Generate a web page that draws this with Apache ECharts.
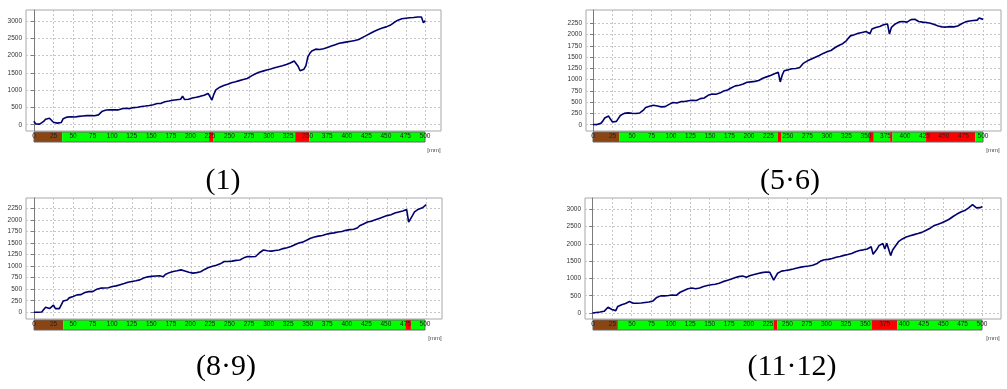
<!DOCTYPE html>
<html><head><meta charset="utf-8">
<script src="https://cdn.jsdelivr.net/npm/echarts@6/dist/echarts.min.js"></script>
<style>html,body{margin:0;padding:0;background:#fff}#c{width:1007px;height:389px}</style>
</head><body><div id="c"></div>
<script>
// ---------------- DATA ----------------
const STEP_MM = 2.5; // sample spacing of the curves along the path [mm]
const xTicks = [0,25,50,75,100,125,150,175,200,225,250,275,300,325,350,375,400,425,450,475,500];
const yTicks3000 = [0,500,1000,1500,2000,2500,3000];
const yTicks2250 = [0,250,500,750,1000,1250,1500,1750,2000,2250];
const captions = ['(1)', '(5\u00B76)', '(8\u00B79)', '(11\u00B712)'];

const curve1 = [100,22,25,18,32,95,160,205,185,130, 70,42,45,38,62,175,212,220,210,232,
 238,222,244,240,232,252,258,262,248,268, 272,260,256,285,322,392,405,425,412,432,
 444,430,448,428,446,460,445,475,482,466, 515,495,525,505,545,528,555,540,575,558,
 595,578,604,612,632,618,655,662,668,684, 692,708,698,724,722,738,825,728,748,738,
 764,772,762,795,798,820,826,855,866,905, 935,715,885,1005,1035,1085,1095,1135,1145,1170,
 1185,1215,1212,1240,1245,1275,1280,1305,1305,1335, 1355,1405,1425,1465,1485,1515,1525,1550,1555,1585,
 1590,1610,1615,1645,1640,1675,1685,1705,1715,1740, 1755,1785,1795,1845,1880,1690,1560,1555,1605,1710,
 1965,2065,2135,2165,2185,2185,2175,2195,2195,2215, 2235,2275,2275,2305,2315,2340,2355,2375,2375,2395,
 2395,2415,2415,2435,2435,2455,2465,2505,2525,2565, 2585,2625,2645,2685,2705,2745,2755,2785,2795,2825,
 2830,2855,2875,2925,2955,3005,3025,3055,3065,3085, 3080,3095,3095,3100,3100,3115,3115,3145,3115,2950,3010];

const curve2 = [5,0,3,2,30,80,150,185,192,120, 60,62,74,66,205,242,252,256,264,262,
 254,262,248,256,262,302,332,382,402,408, 422,432,418,416,408,396,380,402,424,452,
 480,492,482,482,494,512,518,516,526,532, 522,542,544,538,562,580,592,594,622,652,
 676,680,668,678,682,702,718,748,758,772, 784,822,848,862,864,878,880,902,924,942,
 944,952,954,962,968,982,988,1032,1048,1062, 1078,1092,1108,1132,1143,1162,950,1100,1198,1207,
 1218,1242,1243,1238,1247,1250,1268,1302,1368,1402, 1418,1442,1458,1482,1498,1518,1538,1562,1583,1602,
 1618,1637,1648,1682,1708,1732,1758,1782,1798,1842, 1868,1922,1972,1992,1998,2012,2028,2047,2048,2062,
 2068,2082,2018,2122,2138,2157,2158,2182,2198,2217, 2228,2237,2010,2162,2198,2237,2258,2282,2293,2292,
 2278,2277,2298,2332,2362,2342,2298,2292,2283,2277, 2268,2267,2258,2252,2238,2222,2203,2192,2178,2172,
 2158,2167,2168,2177,2178,2172,2178,2192,2218,2242, 2258,2282,2293,2302,2303,2312,2303,2322,2368,2352,2338];

const curve3 = [0,2,0,3,5,40,110,130,80,120, 155,80,55,80,100,245,285,265,312,328,
 342,358,377,368,382,408,427,438,447,448, 447,458,497,503,522,513,527,518,532,538,
 557,558,572,578,597,608,622,638,652,658, 667,668,682,688,702,718,742,753,767,768,
 777,778,787,788,792,773,767,818,852,858, 872,883,892,898,912,918,907,893,887,868,
 862,848,857,858,872,878,902,928,952,968, 987,998,1012,1018,1037,1048,1082,1098,1107,1098,
 1102,1108,1122,1123,1132,1133,1152,1178,1202,1205, 1207,1203,1209,1208,1242,1288,1322,1348,1347,1333,
 1332,1323,1337,1338,1340,1348,1367,1378,1392,1398, 1417,1423,1442,1463,1492,1498,1512,1518,1537,1558,
 1592,1603,1622,1628,1642,1648,1657,1663,1682,1688, 1702,1708,1717,1718,1732,1738,1747,1748,1762,1773,
 1787,1788,1797,1798,1807,1828,1872,1893,1912,1928, 1952,1958,1972,1983,2002,2013,2032,2043,2062,2073,
 2092,2098,2112,2123,2147,2158,2172,2178,2192,2203, 2222,1950,1962,2098,2172,2208,2232,2243,2262,2288,2330];

const curve4 = [0,5,15,25,30,40,48,100,165,140, 100,80,68,190,220,240,255,275,300,330,
 300,280,275,282,280,290,300,305,310,320, 335,345,400,450,485,495,490,495,500,505,
 515,522,513,512,560,600,630,652,663,702, 728,722,710,702,683,722,748,767,778,797,
 808,817,818,830,833,862,878,907,918,942, 953,977,993,1017,1031,1052,1058,1072,1048,1037,
 1058,1082,1093,1112,1123,1142,1148,1167,1173,1187, 1188,1177,1163,950,1050,1150,1195,1212,1218,1227,
 1233,1247,1253,1272,1283,1302,1313,1327,1333,1347, 1348,1360,1363,1382,1398,1422,1458,1502,1528,1542,
 1543,1552,1553,1577,1593,1612,1623,1637,1648,1667, 1673,1692,1698,1722,1743,1772,1788,1807,1813,1827,
 1838,1852,1878,1917,1700,1650,1850,1950,1980,2010, 1850,2015,1970,1660,1820,1900,1980,2062,2108,2142,
 2168,2197,2208,2232,2248,2267,2278,2297,2303,2332, 2358,2387,2408,2442,2478,2522,2543,2562,2578,2602,
 2628,2657,2678,2712,2748,2792,2818,2862,2888,2922, 2938,2962,2998,3042,3078,3132,3100,3040,3062,3048,3080];

// zone bar: boundaries [mm] and zone kind between them (B = brown, G = green, R = red)
const zones1 = [0, 36, 224, 229, 334, 352, 500];
const kinds1 = ['B','G','R','G','R','G'];
const zones2 = [0, 34, 237, 241, 354, 360, 381, 384, 427, 490, 500];
const kinds2 = ['B','G','R','G','R','G','R','G','R','G'];
const zones3 = [0, 37.5, 475, 482, 500];
const kinds3 = ['B','G','R','G'];
const zones4 = [0, 32, 232, 237, 358, 391, 500];
const kinds4 = ['B','G','R','G','R','G'];

// ---------------- LAYOUT / STYLE ----------------
const KIND_COLOR = { B: '#8B4513', G: '#00FF00', R: '#FF0000' };
const KIND_INDEX = ['B','G','R'];
const FONT = '"Liberation Sans", Arial, sans-serif';

const panels = [
  { curve: curve1, zones: zones1, kinds: kinds1, yTicks: yTicks3000, yMin: -182, yMax: 3318, xMin: -10, xMax: 520,
    grid: {left: 26, top: 10, width: 415, height: 121}, bar: {left: 34, top: 132, width: 391, height: 10},
    cap: {x: 223, y: 181}, mm: {x: 434, y: 150} },
  { curve: curve2, zones: zones2, kinds: kinds2, yTicks: yTicks2250, yMin: -139, yMax: 2546, xMin: -9, xMax: 523,
    grid: {left: 586, top: 10, width: 415, height: 121}, bar: {left: 593, top: 132, width: 390, height: 10},
    cap: {x: 790, y: 181}, mm: {x: 993, y: 150} },
  { curve: curve3, zones: zones3, kinds: kinds3, yTicks: yTicks2250, yMin: -145, yMax: 2473, xMin: -10, xMax: 520,
    grid: {left: 26, top: 198, width: 416, height: 121}, bar: {left: 34, top: 320, width: 391, height: 10},
    cap: {x: 226, y: 367}, mm: {x: 435, y: 338} },
  { curve: curve4, zones: zones4, kinds: kinds4, yTicks: yTicks3000, yMin: -174, yMax: 3327, xMin: -9.5, xMax: 524,
    grid: {left: 585, top: 198, width: 416, height: 121}, bar: {left: 593, top: 320, width: 389, height: 10},
    cap: {x: 792, y: 367}, mm: {x: 993, y: 338} }
];

const grid = [], xAxis = [], yAxis = [], series = [], graphic = [];
const dash = { color: '#c6c6c6', type: [2, 2], width: 1 };

panels.forEach((p, k) => {
  const gm = 2 * k, gb = 2 * k + 1;
  grid.push(Object.assign({ show: true, borderColor: '#a8a8a8', borderWidth: 1, backgroundColor: '#fff', containLabel: false }, p.grid));
  grid.push(Object.assign({ show: true, borderColor: '#666', borderWidth: 1, backgroundColor: 'transparent', z: 4 }, p.bar));

  xAxis.push({ gridIndex: gm, type: 'value', min: p.xMin, max: p.xMax,
    axisLine: { show: false }, axisTick: { show: false, customValues: xTicks },
    axisLabel: { show: false, customValues: xTicks },
    splitLine: { show: true, lineStyle: dash } });
  yAxis.push({ gridIndex: gm, type: 'value', min: p.yMin, max: p.yMax,
    axisLine: { show: true, lineStyle: { color: '#7a7a7a', width: 1 } },
    axisTick: { show: true, length: 3, customValues: p.yTicks, lineStyle: { color: '#7a7a7a' } },
    axisLabel: { customValues: p.yTicks, fontSize: 6.5, color: '#333', margin: 4, fontFamily: FONT,
      formatter: v => String(v) },
    splitLine: { show: true, lineStyle: dash } });

  xAxis.push({ gridIndex: gb, type: 'value', min: 0, max: 500, interval: 25, z: 6,
    axisLine: { show: false }, axisTick: { show: false }, splitLine: { show: false },
    axisLabel: { inside: true, margin: 2, fontSize: 6.5, color: '#222', fontFamily: FONT, showMinLabel: true, showMaxLabel: true,
      formatter: v => String(v) } });
  yAxis.push({ gridIndex: gb, type: 'value', min: 0, max: 1, show: false });

  series.push({ type: 'line', xAxisIndex: gm, yAxisIndex: gm, showSymbol: false, symbol: 'none',
    animation: false, silent: true, clip: true,
    lineStyle: { color: '#00006e', width: 1.6 },
    data: p.curve.map((v, i) => [i * STEP_MM, v]) });

  series.push({ type: 'custom', xAxisIndex: gb, yAxisIndex: gb, animation: false, silent: true,
    encode: { x: [0, 1] },
    data: p.kinds.map((kd, i) => [p.zones[i], p.zones[i + 1], KIND_INDEX.indexOf(kd)]),
    renderItem: (params, api) => {
      const a = api.coord([api.value(0), 1]);
      const b = api.coord([api.value(1), 0]);
      return { type: 'rect', shape: { x: a[0], y: a[1], width: b[0] - a[0], height: b[1] - a[1] },
        style: { fill: KIND_COLOR[KIND_INDEX[api.value(2)]] } };
    } });

  graphic.push({ type: 'text', x: p.mm.x, y: p.mm.y,
    style: { text: '[mm]', font: '6px ' + FONT, fill: '#444', align: 'center', verticalAlign: 'middle' } });
  graphic.push({ type: 'text', x: p.cap.x, y: p.cap.y,
    style: { text: captions[k], font: '30px "Liberation Serif", "DejaVu Serif", serif', fill: '#000', align: 'center', verticalAlign: 'middle' } });
});

const chart = echarts.init(document.getElementById('c'), null, { renderer: 'canvas' });
chart.setOption({ animation: false, backgroundColor: '#fff', grid, xAxis, yAxis, series, graphic });
</script>
</body></html>
